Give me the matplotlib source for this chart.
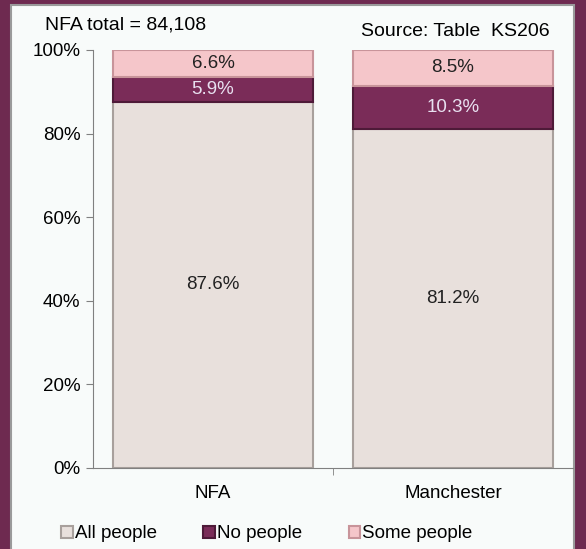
import matplotlib.pyplot as plt
from matplotlib.patches import Rectangle

plt.rcParams['font.family'] = ['Liberation Sans', 'DejaVu Sans']

areas = ["NFA", "Manchester"]
all_people = [87.6, 81.2]
no_people = [5.9, 10.3]
some_people = [6.6, 8.5]

c_all = '#e8e0dc'
c_no = '#7a2c58'
c_some = '#f5c6ca'
border = '#6e2a50'
fs = 13.5

fig = plt.figure(figsize=(5.86, 5.49), dpi=100, facecolor=border)
# white panel inside the maroon frame
fig.patches.append(Rectangle((11 / 586, -0.01), 563 / 586, 544 / 549 + 0.01,
                             transform=fig.transFigure, facecolor='#f8fbfa',
                             edgecolor='#9a9a9a', lw=1.5, zorder=0))

ax = fig.add_axes([93 / 586, 81 / 549, 480 / 586, 418 / 549])
ax.set_facecolor('none')
ax.set_zorder(2)

x = [0, 1]
w = 0.83
b1 = ax.bar(x, all_people, w, color=c_all, edgecolor='#a8a09c', lw=1.5, label='All people')
b2 = ax.bar(x, no_people, w, bottom=all_people, color=c_no, edgecolor='#4e1a38', lw=1.5, label='No people')
bottom3 = [a + n for a, n in zip(all_people, no_people)]
b3 = ax.bar(x, some_people, w, bottom=bottom3, color=c_some, edgecolor='#c8949a', lw=1.5, label='Some people')

for i in x:
    ax.text(i, all_people[i] / 2, f"{all_people[i]}%", ha='center', va='center', fontsize=fs, color='#222222')
    ax.text(i, all_people[i] + no_people[i] / 2, f"{no_people[i]}%", ha='center', va='center', fontsize=fs, color='#e8e0f0')
    ax.text(i, bottom3[i] + some_people[i] / 2, f"{some_people[i]}%", ha='center', va='center', fontsize=fs, color='#222222')

ax.set_xlim(-0.5, 1.5)
ax.set_ylim(0, 100)
ax.set_yticks(range(0, 101, 20))
ax.set_yticklabels([f"{v}%" for v in range(0, 101, 20)], fontsize=fs)
ax.set_xticks([0.5], minor=True)
ax.set_xticks(x)
ax.set_xticklabels(areas, fontsize=fs)
ax.tick_params(axis='x', which='major', length=0, pad=12)
ax.tick_params(axis='x', which='minor', length=5, direction='out', color='#808080')
ax.tick_params(axis='y', length=5, direction='out', color='#808080', pad=4)
for s in ['top', 'right']:
    ax.spines[s].set_visible(False)
for s in ['left', 'bottom']:
    ax.spines[s].set_color('#808080')

fig.text(45 / 586, 1 - 25 / 549, "NFA total = 84,108", fontsize=fs + 0.5, va='center')
fig.text(550 / 586, 1 - 31 / 549, "Source: Table  KS206", fontsize=fs + 0.5, va='center', ha='right')

fig.legend(handles=[b1, b2, b3], loc='center', bbox_to_anchor=(0.455, 1 - 534 / 549),
           ncol=3, frameon=False, fontsize=fs, handlelength=0.6, handleheight=0.6,
           handletextpad=0.1, columnspacing=2.5)

fig.savefig('out.png', dpi=100, facecolor=border)
